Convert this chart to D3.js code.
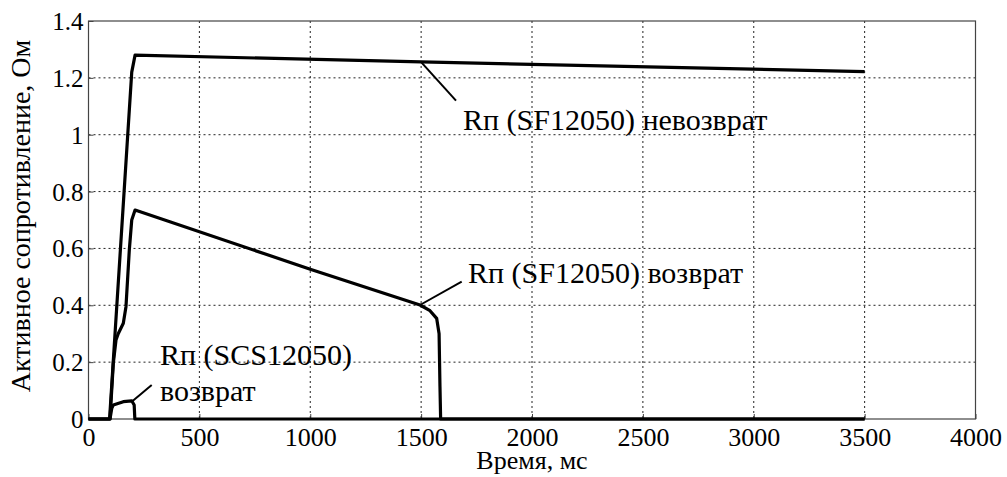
<!DOCTYPE html>
<html><head><meta charset="utf-8">
<script src="https://cdn.jsdelivr.net/npm/d3@7"></script>
<style>body{margin:0;background:#fff}svg{display:block}</style>
</head><body>
<svg id="c" width="1007" height="477"></svg>
<script>
// Data
const xTicks = [0,500,1000,1500,2000,2500,3000,3500,4000];
const yTicks = [0,0.2,0.4,0.6,0.8,1,1.2,1.4];
const sfNoReturn = [[0,0],[95,0],[195,1.22],[210,1.28],[1500,1.256],[3500,1.222]];
const sfReturn = [[0,0],[97,0],[112,0.197],[124,0.278],[134,0.30],[157,0.337],[169,0.395],[184,0.594],[195,0.70],[210,0.735],[1000,0.527],[1495,0.401],[1540,0.381],[1570,0.354],[1581,0.30],[1585,0.114],[1588,0],[3500,0]];
const scsReturn = [[0,0],[97,0],[105,0.038],[112,0.049],[157,0.061],[195,0.064],[206,0.049],[209,0],[3500,0]];
const labels = ["Rп (SF12050) невозврат","Rп (SF12050) возврат","Rп (SCS12050)","возврат"];
const yTitle = "Активное сопротивление, Ом";
const xTitle = "Время, мс";

const svg = d3.select("#c");
const L=88.5, R=975.5, T=21, B=419;
const x = d3.scaleLinear().domain([0,4000]).range([L,R]);
const y = d3.scaleLinear().domain([0,1.4]).range([B,T]);
const st = s => `font-family:'Liberation Serif';font-size:${s}px`;

// grid
const g = svg.append("g");
g.selectAll(".vg").data(xTicks.slice(1,-1)).enter().append("line")
  .attr("x1",d=>x(d)).attr("x2",d=>x(d)).attr("y1",T).attr("y2",B)
  .attr("stroke","#222").attr("stroke-width",1).attr("stroke-dasharray","2,3");
g.selectAll(".hg").data(yTicks.slice(1,-1)).enter().append("line")
  .attr("y1",d=>y(d)).attr("y2",d=>y(d)).attr("x1",L).attr("x2",R)
  .attr("stroke","#222").attr("stroke-width",1).attr("stroke-dasharray","2,3");

// frame
svg.append("rect").attr("x",L).attr("y",T).attr("width",R-L).attr("height",B-T)
  .attr("fill","none").attr("stroke","#444").attr("stroke-width",1.2);

// axes
const xa = svg.append("g").attr("transform",`translate(0,${B})`)
  .call(d3.axisBottom(x).tickValues(xTicks).tickFormat(d3.format("d")).tickSize(-5));
const ya = svg.append("g").attr("transform",`translate(${L},0)`)
  .call(d3.axisLeft(y).tickValues(yTicks).tickFormat(d=>d===0||d===1?String(d):d3.format(".1f")(d)).tickSize(-5));
[xa,ya].forEach(a=>{a.select(".domain").remove();
  a.attr("font-family",null).attr("font-size",null);
  a.selectAll(".tick line").attr("stroke","#444");
  a.selectAll("text").attr("fill","#000");});
xa.selectAll("text").attr("style",st(26)).attr("dy",0).attr("y",27);
ya.selectAll("text").attr("style",st(25)).attr("dy","0.34em").attr("x",-5);

// curves
const line = d3.line().x(d=>x(d[0])).y(d=>y(d[1]));
[scsReturn,sfReturn,sfNoReturn].forEach(s=>{
  svg.append("path").datum(s).attr("d",line).attr("fill","none")
    .attr("stroke","#000").attr("stroke-width",3.2).attr("stroke-linejoin","round");
});

// annotations
const ann = [
  {t:labels[0],x:463,y:130,lx1:420.7,ly1:61.7,lx2:456,ly2:100.7},
  {t:labels[1],x:468,y:283,lx1:420,ly1:305,lx2:461.7,ly2:281.7},
  {t:labels[2],x:160,y:365,lx1:131.7,ly1:401.7,lx2:151.7,ly2:385},
  {t:labels[3],x:160,y:401}
];
ann.forEach(a=>{
  svg.append("text").attr("x",a.x).attr("y",a.y).text(a.t)
    .attr("style",st(30)).attr("fill","#000");
  if(a.lx1!==undefined) svg.append("line").attr("x1",a.lx1).attr("y1",a.ly1).attr("x2",a.lx2).attr("y2",a.ly2)
    .attr("stroke","#000").attr("stroke-width",2);
});

svg.append("text").attr("transform","translate(30,216) rotate(-90)").attr("text-anchor","middle")
  .attr("style",st(28)).text(yTitle);
svg.append("text").attr("x",532).attr("y",469).attr("text-anchor","middle")
  .attr("style",st(26)).text(xTitle);
</script>
</body></html>
